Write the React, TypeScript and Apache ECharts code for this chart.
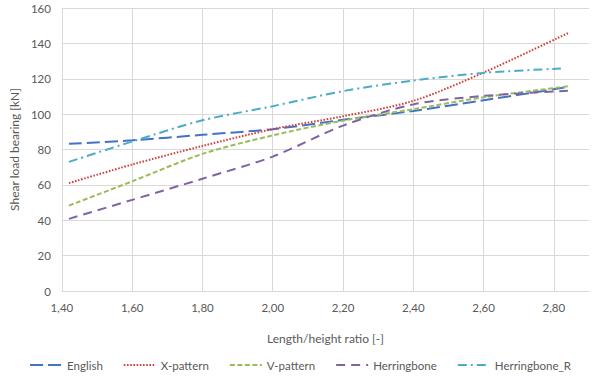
import React, { useEffect, useRef } from 'react';
import * as echarts from 'echarts';

const xValues = [1.42, 1.6, 1.8, 2.0, 2.2, 2.4, 2.6, 2.84];
const xValuesR = [1.42, 1.6, 1.8, 2.0, 2.2, 2.4, 2.6, 2.82];

const english = [83.2, 85.2, 88.3, 91.5, 96.8, 101.8, 107.8, 115.3];
const xPattern = [61, 71.5, 82, 91.5, 98.8, 107.5, 123.5, 145.8];
const vPattern = [48.3, 62, 77.5, 88, 96.3, 102.8, 109.5, 115.7];
const herringbone = [40.8, 51.5, 63.5, 76, 93.5, 105.5, 110.3, 113.2];
const herringboneR = [73, 84.5, 96.5, 104.5, 113, 119, 123.3, 125.8];

const seriesNames = ['English', 'X-pattern', 'V-pattern', 'Herringbone', 'Herringbone_R'];

const FONT = 'Lato, "Liberation Sans", sans-serif';
const TEXT = '#595959';
const GRID = '#D9D9D9';

function pairs(xs: number[], ys: number[]) {
  return xs.map((x, i) => [x, ys[i]]);
}

export default function App() {
  const ref = useRef<HTMLDivElement>(null);
  useEffect(() => {
    const chart = echarts.init(ref.current!, null, { renderer: 'svg' });
    const mk = (name: string, xs: number[], ys: number[], color: string, type: any) => ({
      name,
      type: 'line',
      data: pairs(xs, ys),
      smooth: 0.3,
      symbol: 'none',
      lineStyle: { color, width: 2, type, cap: 'butt' },
      itemStyle: { color },
    });
    chart.setOption({
      animation: false,
      textStyle: { fontFamily: FONT },
      grid: { left: 54, right: 11, top: 8, bottom: 87 },
      xAxis: {
        type: 'value',
        min: 1.4,
        max: 2.9,
        interval: 0.2,
        name: 'Length/height ratio [-]',
        nameLocation: 'middle',
        nameGap: 41,
        nameTextStyle: { color: TEXT, fontSize: 12, fontFamily: FONT },
        axisLine: { show: true, lineStyle: { color: GRID, width: 1 } },
        axisTick: { show: false },
        axisLabel: {
          color: TEXT,
          fontSize: 11.5,
          fontFamily: FONT,
          margin: 10,
          showMaxLabel: false,
          formatter: (v: number) => (v > 2.85 ? '' : v.toFixed(2).replace('.', ',')),
        },
        splitLine: { show: true, showMinLine: false, showMaxLine: false, lineStyle: { color: GRID, width: 1 } },
      },
      yAxis: {
        type: 'value',
        min: 0,
        max: 160,
        interval: 20,
        name: 'Shear load bearing [kN]',
        nameLocation: 'middle',
        nameGap: 41,
        nameTextStyle: { color: TEXT, fontSize: 12, fontFamily: FONT },
        axisLine: { show: true, lineStyle: { color: GRID, width: 1 } },
        axisTick: { show: false },
        axisLabel: { color: TEXT, fontSize: 11.5, fontFamily: FONT, margin: 11 },
        splitLine: { show: true, showMinLine: false, lineStyle: { color: GRID, width: 1 } },
      },
      legend: {
        data: seriesNames,
        bottom: 2,
        left: 'center',
        itemWidth: 32,
        itemHeight: 10,
        itemGap: 20,
        itemStyle: { opacity: 0 },
        textStyle: { color: TEXT, fontSize: 11.5, fontFamily: FONT },
      },
      series: [
        mk(seriesNames[0], xValues, english, '#4472C4', [13, 5]),
        mk(seriesNames[1], xValues, xPattern, '#D0413E', [1.6, 1.6]),
        mk(seriesNames[2], xValues, vPattern, '#9BBB59', [5, 2.5]),
        mk(seriesNames[3], xValues, herringbone, '#8064A2', [9, 6]),
        mk(seriesNames[4], xValuesR, herringboneR, '#4BACC6', [9, 4, 2, 4]),
      ],
    });
    return () => chart.dispose();
  }, []);
  return <div ref={ref} style={{ position: 'absolute', left: 0, top: 0, width: 600, height: 378 }} />;
}
